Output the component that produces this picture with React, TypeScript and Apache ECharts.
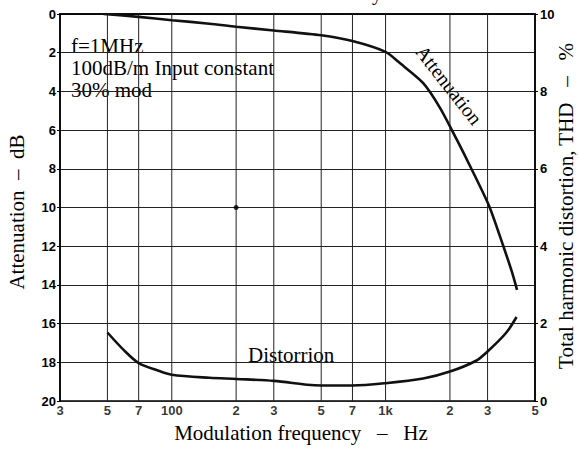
import React, { useEffect, useRef } from "react";
import * as echarts from "echarts";

// Vertical grid lines (Hz)
const freqGrid = [50, 70, 100, 200, 300, 500, 700, 1000, 2000, 3000];
// X tick labels
const xTickValues = [30, 50, 70, 100, 200, 300, 500, 700, 1000, 2000, 3000, 5000];
const xTickLabels = ["3", "5", "7", "100", "2", "3", "5", "7", "1k", "2", "3", "5"];

// Attenuation curve (dB, left axis)
const attFreq = [48, 70, 100, 150, 200, 300, 500, 700, 1000, 1170, 1500, 1800, 2160, 2490, 3050, 3540, 3900, 4120];
const attDb = [0, 0.15, 0.32, 0.5, 0.66, 0.85, 1.1, 1.4, 1.96, 2.55, 3.57, 4.86, 6.52, 7.88, 9.92, 11.94, 13.33, 14.26];

// Distortion curve (%, right axis)
const distFreq = [50, 60, 70, 85, 100, 150, 200, 300, 430, 500, 700, 1000, 1500, 2000, 2650, 3000, 3650, 4100];
const distPct = [1.77, 1.3, 0.98, 0.8, 0.68, 0.6, 0.57, 0.52, 0.42, 0.4, 0.4, 0.46, 0.58, 0.76, 1.04, 1.28, 1.75, 2.17];

// Isolated dot
const dotPoints = [[200, 10]];

const SERIF = '"Liberation Serif", "Times New Roman", serif';
const SANS = '"Liberation Sans", Arial, sans-serif';

const lg = (f: number) => Math.log10(f);

export default function App() {
  const ref = useRef<HTMLDivElement>(null);
  useEffect(() => {
    const chart = echarts.init(ref.current!, null, { renderer: "svg" });
    const deg = Math.PI / 180;
    const tickFont = { color: "#000", fontFamily: SANS, fontWeight: "bold", fontSize: 13 };
    const option: any = {
      animation: false,
      backgroundColor: "#fff",
      grid: {
        left: 60,
        right: 44,
        top: 14,
        bottom: 49,
        show: true,
        borderColor: "#000",
        borderWidth: 1.5,
      },
      xAxis: {
        type: "value",
        min: lg(30),
        max: lg(5000),
        axisLine: { show: true, lineStyle: { color: "#000", width: 1.5 } },
        axisTick: { show: false },
        axisLabel: { show: false },
        splitLine: { show: false },
      },
      yAxis: [
        {
          type: "value",
          min: 0,
          max: 20,
          interval: 2,
          inverse: true,
          position: "left",
          axisLine: { show: true, lineStyle: { color: "#000", width: 1.5 } },
          axisTick: { show: true, length: 3, lineStyle: { color: "#000" } },
          axisLabel: { ...tickFont, margin: 4 },
          splitLine: { show: true, lineStyle: { color: "#222", width: 1 } },
        },
        {
          type: "value",
          min: 0,
          max: 10,
          interval: 2,
          position: "right",
          axisLine: { show: true, lineStyle: { color: "#000", width: 1.5 } },
          axisTick: { show: true, length: 3, lineStyle: { color: "#000" } },
          axisLabel: { ...tickFont, margin: 5 },
          splitLine: { show: false },
        },
      ],
      series: [
        {
          name: "vgrid",
          type: "custom",
          xAxisIndex: 0,
          yAxisIndex: 0,
          silent: true,
          clip: false,
          data: freqGrid.map((f) => [lg(f), 0]),
          encode: { x: 0, y: 1 },
          renderItem: (params: any, api: any) => {
            const p0 = api.coord([api.value(0), 0]);
            const p1 = api.coord([api.value(0), 20]);
            return {
              type: "line",
              shape: { x1: p0[0], y1: p0[1], x2: p1[0], y2: p1[1] },
              style: { stroke: "#222", lineWidth: 1 },
            };
          },
        },
        {
          name: "Attenuation",
          type: "line",
          xAxisIndex: 0,
          yAxisIndex: 0,
          data: attFreq.map((f, i) => [lg(f), attDb[i]]),
          showSymbol: false,
          smooth: 0.25,
          lineStyle: { color: "#111", width: 2.6 },
          z: 3,
        },
        {
          name: "Distortion",
          type: "line",
          xAxisIndex: 0,
          yAxisIndex: 1,
          data: distFreq.map((f, i) => [lg(f), distPct[i]]),
          showSymbol: false,
          smooth: 0.3,
          lineStyle: { color: "#111", width: 2.6 },
          z: 3,
        },
        {
          name: "dot",
          type: "scatter",
          xAxisIndex: 0,
          yAxisIndex: 0,
          data: dotPoints.map((p) => [lg(p[0]), p[1]]),
          symbolSize: 5,
          itemStyle: { color: "#000" },
          z: 4,
        },
        {
          name: "xlabels",
          type: "scatter",
          xAxisIndex: 0,
          yAxisIndex: 0,
          clip: false,
          silent: true,
          symbolSize: 0,
          data: xTickValues.map((v, i) => ({ value: [lg(v), 20], name: xTickLabels[i] })),
          label: {
            show: true,
            position: "bottom",
            distance: 3,
            formatter: "{b}",
            ...tickFont,
          },
        },
      ],
      graphic: [
        {
          type: "text",
          x: 71,
          y: 35,
          style: {
            text: "f=1MHz\n100dB/m Input constant\n30% mod",
            font: `21px ${SERIF}`,
            lineHeight: 22,
            fill: "#000",
            align: "left",
            verticalAlign: "top",
          },
        },
        {
          type: "text",
          x: 449,
          y: 85,
          rotation: -52 * deg,
          style: { text: "Attenuation", font: `20px ${SERIF}`, fill: "#000", align: "center", verticalAlign: "middle" },
        },
        {
          type: "text",
          x: 248,
          y: 355,
          style: { text: "Distorrion", font: `21px ${SERIF}`, fill: "#000", align: "left", verticalAlign: "middle" },
        },
        {
          type: "text",
          x: 301,
          y: 433,
          style: { text: "Modulation frequency   –   Hz", font: `21px ${SERIF}`, fill: "#000", align: "center", verticalAlign: "middle" },
        },
        {
          type: "text",
          x: 17,
          y: 212,
          rotation: 90 * deg,
          style: { text: "Attenuation  –  dB", font: `21px ${SERIF}`, fill: "#000", align: "center", verticalAlign: "middle" },
        },
        {
          type: "text",
          x: 566,
          y: 206,
          rotation: 90 * deg,
          style: { text: "Total harmonic distortion, THD   –   %", font: `21px ${SERIF}`, fill: "#000", align: "center", verticalAlign: "middle" },
        },
        {
          type: "text",
          x: 372,
          y: -7,
          style: { text: "y", font: `20px ${SERIF}`, fill: "#000", align: "left", verticalAlign: "middle" },
        },
      ],
    };
    chart.setOption(option);
    return () => chart.dispose();
  }, []);
  return (
    <div
      ref={ref}
      style={{ position: "fixed", left: 0, top: 0, width: 579, height: 450, background: "#fff" }}
    />
  );
}
